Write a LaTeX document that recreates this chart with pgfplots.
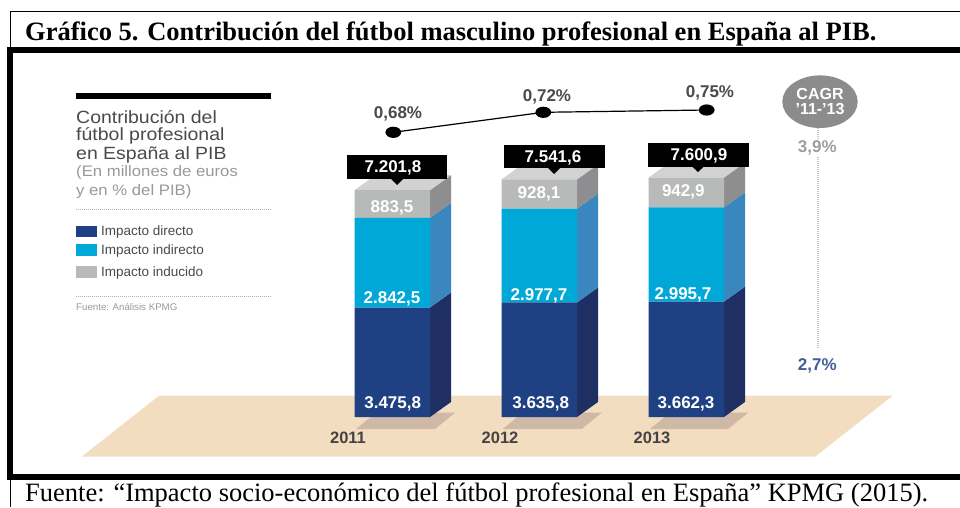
\documentclass[border=0pt]{standalone}
\usepackage{pgfplots}
\pgfplotsset{compat=1.18}
\usepackage{fontspec}
\setmainfont{Liberation Serif}
\newfontfamily\lsans{Liberation Sans}
\newfontfamily\lsansw[FakeStretch=1.1]{Liberation Sans}
\definecolor{dirF}{HTML}{1F4183}
\definecolor{dirS}{HTML}{1F2F63}
\definecolor{indF}{HTML}{00A8D8}
\definecolor{indS}{HTML}{3A87BF}
\definecolor{gryF}{HTML}{B8BABA}
\definecolor{gryS}{HTML}{8E8E90}
\definecolor{gryT}{HTML}{D2D2D4}
\definecolor{floorc}{HTML}{F3DDC0}
\definecolor{shadowc}{HTML}{CFB8A5}
\definecolor{labc}{HTML}{4A4A4A}
\pgfplotsset{
  base/.style={at={(0pt,0pt)},anchor=south west,scale only axis,width=960pt,height=507pt,hide axis,xmin=0,xmax=960},
  px/.style={base,ymin=0,ymax=507,y dir=reverse},
  eur/.style={base,ymin=-2857.14,ymax=13238.1},
  face/.style={fill=#1,draw=none,forget plot,mark=none}
}
\newcommand{\fs}[1]{\fontsize{#1}{#1}\selectfont}
\newcommand{\barlab}[3]{\node[text=white,font=\lsans\bfseries\fs{17}] at (#1,#2) {#3};}
\pgfplotstableread{
x y pct
393.3 132.3 0,68\%
543.3 112.3 0,72\%
706.7 110.0 0,75\%
}\pibline
\pgfplotstableread{
x direct indirect induced
392.25 3475.8 2842.5 883.5
539.25 3635.8 2977.7 928.1
686.25 3662.3 2995.7 942.9
}\bars
\begin{document}
\begin{tikzpicture}
% background: frame, floor, legend
\begin{axis}[px]
\fill[white] (0,0) rectangle (960,507);
\fill[black] (9.5,10.5) rectangle (960,12);
\fill[black] (9.5,10.5) rectangle (11,47);
\fill[black] (7,47) rectangle (960,53);
\fill[black] (7,47) rectangle (13,480);
\fill[black] (7,474) rectangle (960,480);
\fill[black] (9.5,480) rectangle (11,507);
\node[anchor=base west,inner sep=0pt,font=\bfseries\fs{26.5}] at (25,40) {Gráfico 5. Contribución del fútbol masculino profesional en España al PIB.};
\node[anchor=base west,inner sep=0pt,font=\fs{26.5}] at (25,501.5) {Fuente: “Impacto socio-económico del fútbol profesional en España” KPMG (2015).};
\fill[floorc] (81.7,456.7) -- (159,395.7) -- (892.7,395.7) -- (815,456.7) -- cycle;
\fill[shadowc] (356,429) -- (435,429) -- (455,412.7) -- (376,412.7) -- cycle;
\fill[shadowc] (502.7,429) -- (581.7,429) -- (601.7,412.7) -- (522.7,412.7) -- cycle;
\fill[shadowc] (650,429) -- (728,429) -- (748,412.7) -- (670,412.7) -- cycle;
% legend panel
\fill[black] (76,93.3) rectangle (270.7,98.7);
\node[anchor=west,inner sep=0pt,text=labc,font=\lsansw\fs{17.7}] at (76,117) {Contribución del};
\node[anchor=west,inner sep=0pt,text=labc,font=\lsansw\fs{17.7}] at (76,136) {fútbol profesional};
\node[anchor=west,inner sep=0pt,text=labc,font=\lsansw\fs{17.7}] at (76,155) {en España al PIB};
\node[anchor=west,inner sep=0pt,text=black!40,font=\lsansw\fs{15.2}] at (76,173) {(En millones de euros};
\node[anchor=west,inner sep=0pt,text=black!40,font=\lsansw\fs{15.2}] at (76,191.7) {y en \% del PIB)};
\draw[black!30,line width=0.8pt,dash pattern=on 1pt off 1pt] (76,209.5) -- (271,209.5);
\fill[dirF] (76,225.7) rectangle (97,237.3);
\fill[indF] (76,244.3) rectangle (97,256);
\fill[gryF] (76,266) rectangle (97,278.3);
\node[anchor=west,inner sep=0pt,text=labc,font=\lsans\fs{13.5}] at (101,231.7) {Impacto directo};
\node[anchor=west,inner sep=0pt,text=labc,font=\lsans\fs{13.5}] at (101,250.7) {Impacto indirecto};
\node[anchor=west,inner sep=0pt,text=labc,font=\lsans\fs{13.5}] at (101,272.7) {Impacto inducido};
\draw[black!30,line width=0.8pt,dash pattern=on 1pt off 1pt] (76,296) -- (271,296);
\node[anchor=west,inner sep=0pt,text=black!40,font=\lsans\fs{9.7}] at (76,307.3) {Fuente: Análisis KPMG};
% CAGR column
\draw[black!22,line width=1.6pt,dash pattern=on 1pt off 1pt] (818,128) -- (818,140);
\draw[black!22,line width=1.6pt,dash pattern=on 1pt off 1pt] (818,157) -- (818,348);
\end{axis}
% bar side and top faces
\begin{axis}[eur]
\addplot[face=dirS] coordinates {(430,0)(451,476.2)(451,3952)(430,3475.8)} -- cycle;
\addplot[face=indS] coordinates {(430,3475.8)(451,3952)(451,6794.5)(430,6318.3)} -- cycle;
\addplot[face=gryS] coordinates {(430,6318.3)(451,6794.5)(451,7678)(430,7201.8)} -- cycle;
\addplot[face=gryT] coordinates {(354.5,7201.8)(375.5,7678)(451,7678)(430,7201.8)} -- cycle;
\addplot[face=dirS] coordinates {(577,0)(598,476.2)(598,4112)(577,3635.8)} -- cycle;
\addplot[face=indS] coordinates {(577,3635.8)(598,4112)(598,7089.7)(577,6613.5)} -- cycle;
\addplot[face=gryS] coordinates {(577,6613.5)(598,7089.7)(598,8017.8)(577,7541.6)} -- cycle;
\addplot[face=gryT] coordinates {(501.5,7541.6)(522.5,8017.8)(598,8017.8)(577,7541.6)} -- cycle;
\addplot[face=dirS] coordinates {(724,0)(745,476.2)(745,4138.5)(724,3662.3)} -- cycle;
\addplot[face=indS] coordinates {(724,3662.3)(745,4138.5)(745,7134.2)(724,6658)} -- cycle;
\addplot[face=gryS] coordinates {(724,6658)(745,7134.2)(745,8077.1)(724,7600.9)} -- cycle;
\addplot[face=gryT] coordinates {(648.5,7600.9)(669.5,8077.1)(745,8077.1)(724,7600.9)} -- cycle;
\end{axis}
% bar fronts
\begin{axis}[eur,ybar stacked,bar width=75.5pt]
\addplot[fill=dirF,draw=none] table[x=x,y=direct] {\bars};
\addplot[fill=indF,draw=none] table[x=x,y=indirect] {\bars};
\addplot[fill=gryF,draw=none] table[x=x,y=induced] {\bars};
\end{axis}
% line, callouts, labels
\begin{axis}[px]
\addplot[black,line width=1.2pt,mark=*,mark size=5pt,mark options={xscale=1.45,fill=black},
  forget plot] table[x=x,y=y] {\pibline};
\fill[black] (346.7,155.3) rectangle (447.3,179);
\fill[black] (390,178) -- (404,178) -- (397,185) -- cycle;
\fill[black] (504,145) rectangle (604.7,168.3);
\fill[black] (547,167) -- (561,167) -- (554,174) -- cycle;
\fill[black] (648,143) rectangle (748.7,166.7);
\fill[black] (691,165.5) -- (705,165.5) -- (698,172) -- cycle;
\barlab{393}{168}{7.201,8}
\barlab{553}{158}{7.541,6}
\barlab{699}{156}{7.600,9}
\barlab{392}{207.7}{883,5}
\barlab{392}{299.3}{2.842,5}
\barlab{392.7}{404}{3.475,8}
\barlab{539}{194.3}{928,1}
\barlab{539}{295.7}{2.977,7}
\barlab{540.7}{404}{3.635,8}
\barlab{683.3}{192.3}{942,9}
\barlab{683}{295}{2.995,7}
\barlab{686}{404}{3.662,3}
\node[text=labc,font=\lsans\bfseries\fs{17}] at (398,114) {0,68\%};
\node[text=labc,font=\lsans\bfseries\fs{17}] at (547,96.7) {0,72\%};
\node[text=labc,font=\lsans\bfseries\fs{17}] at (710,93.3) {0,75\%};
\node[text=labc!90!black,font=\lsans\bfseries\fs{16.5}] at (348,438) {2011};
\node[text=labc!90!black,font=\lsans\bfseries\fs{16.5}] at (500,438) {2012};
\node[text=labc!90!black,font=\lsans\bfseries\fs{16.5}] at (652,438) {2013};
\fill[black!45] (820,101.7) ellipse [x radius=37.7,y radius=26.3];
\node[text=white,font=\lsans\bfseries\fs{16}] at (820,94) {CAGR};
\node[text=white,font=\lsans\bfseries\fs{16}] at (820,109) {’11-’13};
\node[text=black!38,font=\lsans\bfseries\fs{17}] at (817.3,148.3) {3,9\%};
\node[text=dirF!85,font=\lsans\bfseries\fs{17}] at (817.3,366) {2,7\%};
\end{axis}
\end{tikzpicture}
\end{document}
